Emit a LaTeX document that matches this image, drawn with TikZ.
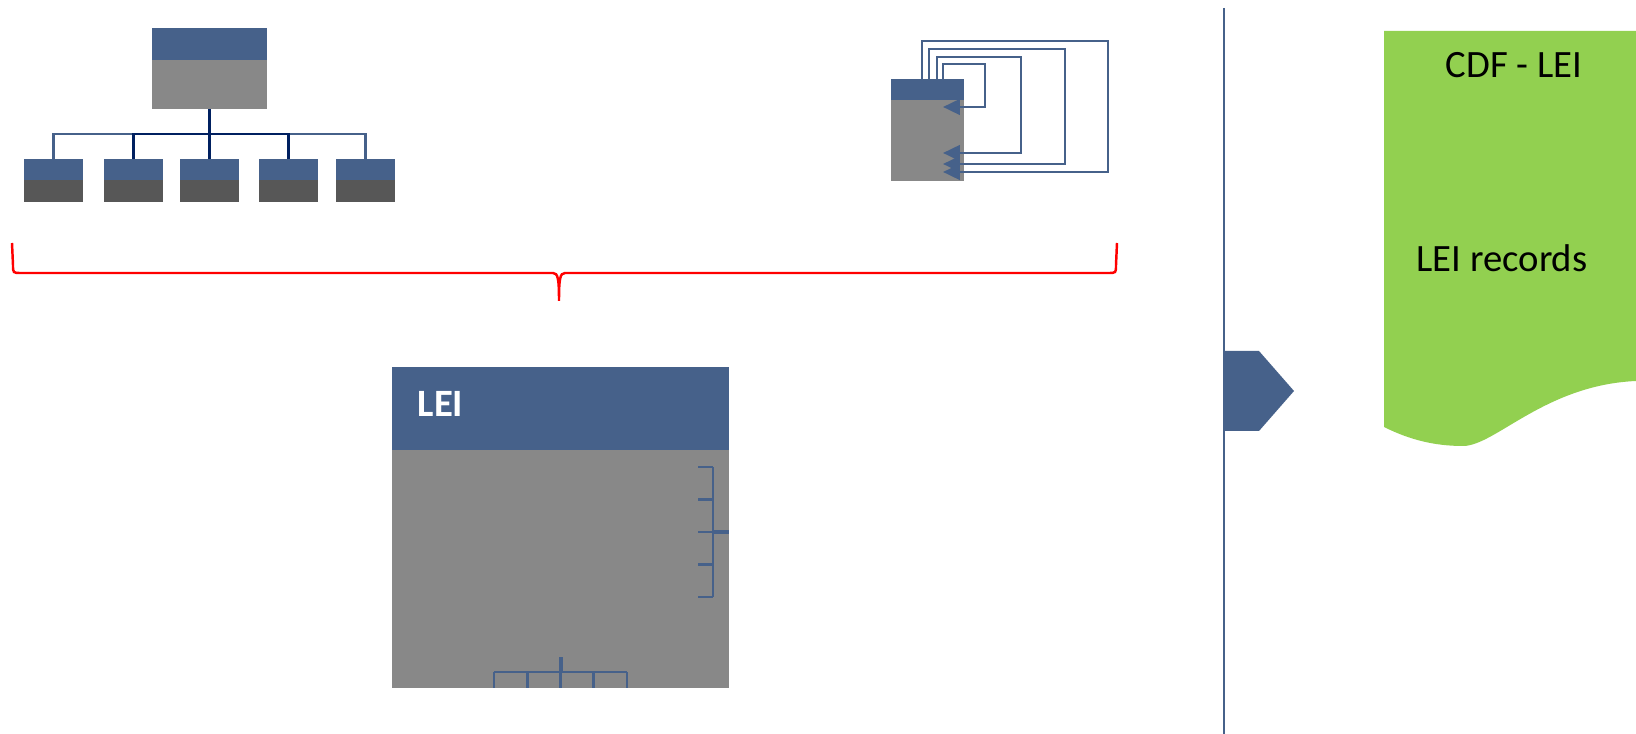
\documentclass[tikz,border=0pt]{standalone}
\usepackage{fontspec}
\setmainfont{Carlito}
\usepackage{xcolor}
\definecolor{hdrblue}{RGB}{70, 97, 138}
\definecolor{bodygray}{RGB}{136, 136, 136}
\definecolor{leafgray}{RGB}{87, 87, 87}
\definecolor{navyline}{RGB}{0, 32, 96}
\definecolor{docgreen}{RGB}{146, 208, 80}
\usepackage{tikz}
\usetikzlibrary{positioning,arrows.meta,calc}
\tikzset{
  hdr/.style={
    rectangle, fill=hdrblue, inner sep=0pt, outer sep=0pt, anchor=north west
  },
  body/.style={
    rectangle, fill=bodygray, inner sep=0pt, outer sep=0pt
  },
  link/.style={draw=hdrblue, line width=0.7pt},
  navylink/.style={draw=navyline, line width=0.7pt},
  selfloop/.style={-{Triangle[length=4.8pt,width=4.4pt]}, draw=hdrblue, line width=0.8pt},
  comb/.style={draw=hdrblue, line width=0.7pt},
  bracepath/.style={draw=red, line width=0.7pt},
  doctext/.style={inner sep=0pt, font=\fontsize{11}{13}\selectfont},
}

\begin{document}
\begin{tikzpicture}[x=0.01cm, y=-0.01cm]
  \useasboundingbox (0,0) rectangle (1636,734);

  % small org chart, top left
  \node[hdr, minimum width=1.15cm, minimum height=0.32cm] (parenthdr) at (152,28) {};
  \node[body, minimum width=1.15cm, minimum height=0.49cm, below=0pt of parenthdr] (parentbody) {};
  \foreach \cx [count=\i] in {24,104,180,259,336} {
    \node[hdr, minimum width=0.59cm, minimum height=0.21cm] (childhdr\i) at (\cx,159) {};
    \node[body, fill=leafgray, minimum width=0.59cm, minimum height=0.22cm, below=0pt of childhdr\i] (childbody\i) {};
  }
  \coordinate (bus) at ($(parentbody.south)+(0,25)$);
  \foreach \i in {1,5} \draw[link] (bus) -| (childhdr\i.north);
  \foreach \i in {2,3,4} \draw[navylink] (bus) -| (childhdr\i.north);
  \draw[navylink, line width=1pt] (parentbody.south) -- (bus);

  % box with self loops, top right
  \node[hdr, minimum width=0.73cm, minimum height=0.21cm] (loophdr) at (891,79) {};
  \node[body, minimum width=0.73cm, minimum height=0.81cm, below=0pt of loophdr] (loopbody) {};
  \foreach \dx/\ty/\rx/\dy in {31/-38/217/93, 38/-30/174/85, 46/-22/130/74, 52/-15/94/28}
    \draw[selfloop] ($(loophdr.north west)+(\dx,0)$) -- ++(0,\ty)
      -| ($(loophdr.north west)+(\rx,\dy)$) -- ($(loophdr.north west)+(52,\dy)$);

  % red brace under both
  \draw[bracepath] (12,243) -- (13,265) .. controls (13,273) .. (21,273)
    -- (553,273) .. controls (558,273) and (559,279) .. (559,301)
    .. controls (559,279) and (560,273) .. (565,273)
    -- (1108,273) .. controls (1116,273) .. (1116,265) -- (1117,243);

  % the LEI entity
  \node[hdr, minimum width=3.37cm, minimum height=0.83cm] (leihdr) at (392,367) {};
  \node[body, minimum width=3.37cm, minimum height=2.38cm, below=0pt of leihdr] (leibody) {};
  \node[anchor=base west, inner sep=0pt, text=white, font=\fontsize{11}{13}\selectfont\bfseries]
    (leilabel) at ($(leihdr.north west)+(25,50)$) {LEI};

  % connector stubs on the right side
  \foreach \dy in {17,49.5,82,114.5,147}
    \draw[comb] ($(leibody.north east)+(-31,\dy)$) -- ++(15,0);
  \draw[comb] ($(leibody.north east)+(-16,17)$) -- ++(0,130);
  \draw[comb, line width=1.1pt] ($(leibody.north east)+(-16,82)$) -- ++(16,0);
  % connector stubs at the bottom
  \foreach \dx in {-66.5,-33,0,33,66.5}
    \draw[comb] ($(leibody.south)+(\dx,-16)$) -- ++(0,16);
  \draw[comb] ($(leibody.south)+(-66.5,-16)$) -- ++(133,0);
  \draw[comb, line width=1.1pt] ($(leibody.south)+(0,-16)$) -- ++(0,-15);

  % divider and chevron
  \coordinate (divtop) at (1224,8);
  \coordinate (divbot) at (1224,734);
  \draw[link] (divtop) -- (divbot);
  \fill[hdrblue] (1224,351) -- (1259,351) -- (1294,391) -- (1259,431) -- (1224,431) -- cycle;

  % CDF document
  \fill[docgreen] (1384,31) -- (1636,31) -- (1636,381)
    .. controls (1545,385) and (1495,446) .. (1463,446)
    .. controls (1435,446) and (1410,440) .. (1384,427) -- cycle;
  \node[doctext, anchor=base] (cdftitle) at (1514,78) {CDF - LEI};
  \node[doctext, anchor=base west] (cdfrecords) at (1416,272) {LEI records};

\end{tikzpicture}
\end{document}
